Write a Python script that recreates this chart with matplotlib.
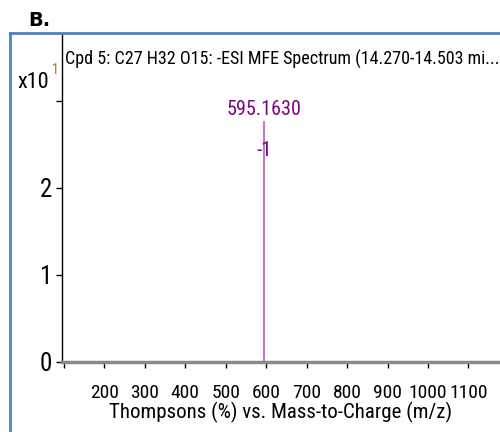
"""
Recreate MFE spectrum panel B
"""
import matplotlib.pyplot as plt
from matplotlib.lines import Line2D

# data
peak_mz = [595.1630]
peak_int = [2.77]          # x10^1 counts
peak_labels = ['595.1630']
peak_charges = ['-1']
x_ticks = [100, 200, 300, 400, 500, 600, 700, 800, 900, 1000, 1100]
x_tick_labels = ['', '200', '300', '400', '500', '600', '700', '800', '900', '1000', '1100']
y_ticks = [0, 1, 2, 3]
y_tick_labels = ['0', '1', '2', '']

title = 'Cpd 5: C27 H32 O15: -ESI MFE Spectrum (14.270-14.503 mi...'
xlabel = 'Thompsons (%) vs. Mass-to-Charge (m/z)'

narrow = ['Liberation Sans Narrow', 'Arial Narrow', 'Roboto Condensed',
          'Noto Sans Condensed', 'Open Sans Condensed', 'Liberation Sans']
plt.rcParams['font.family'] = narrow
plt.rcParams['font.stretch'] = 'condensed'

fig = plt.figure(figsize=(5, 4.32), dpi=100)
ax = fig.add_axes([0.124, 0.162, 0.876, 0.7616])

ax.vlines(peak_mz, 0, peak_int, color='#c47ac4', linewidth=1.5)
for mz, h, lab, z in zip(peak_mz, peak_int, peak_labels, peak_charges):
    ax.text(mz, h + 0.02, lab, color='#800080', fontsize=14.5,
            ha='center', va='bottom')
    ax.text(mz, h - 0.34, z, color='#800080', fontsize=15,
            ha='center', va='center')

ax.set_xlim(95.3, 1178)
ax.set_ylim(-0.005, 3.776)
ax.set_xticks(x_ticks)
ax.set_xticklabels(x_tick_labels, fontsize=14)
ax.set_yticks(y_ticks)
ax.set_yticklabels(y_tick_labels, fontsize=18)
ax.tick_params(axis='both', length=4, width=1, pad=3)
ax.tick_params(axis='x', pad=12)

for s in ['top', 'right']:
    ax.spines[s].set_visible(False)
ax.spines['left'].set_linewidth(1)
ax.spines['bottom'].set_color('#8a8a8a')
ax.spines['bottom'].set_linewidth(2.5)

ax.set_xlabel(xlabel, fontsize=15, labelpad=0)

fig.text(0.13, 0.862, title, fontsize=13, va='center', ha='left')
fig.text(0.034, 0.81, 'x10', fontsize=16, va='center', ha='left')
fig.text(0.103, 0.838, '1', fontsize=10, va='center', ha='left', color='#a07828')
fig.text(0.056, 0.953, 'B.', fontsize=14, fontweight='bold', family='DejaVu Sans',
         stretch='normal', va='center', ha='left')

# blue frame around the panel
fig.add_artist(Line2D([0.02, 0.02], [0, 0.924], color='#4f81bd', linewidth=2,
                      transform=fig.transFigure))
fig.add_artist(Line2D([0.02, 1.0], [0.924, 0.924], color='#4f81bd', linewidth=2,
                      transform=fig.transFigure))

fig.savefig('out.png', dpi=100)
